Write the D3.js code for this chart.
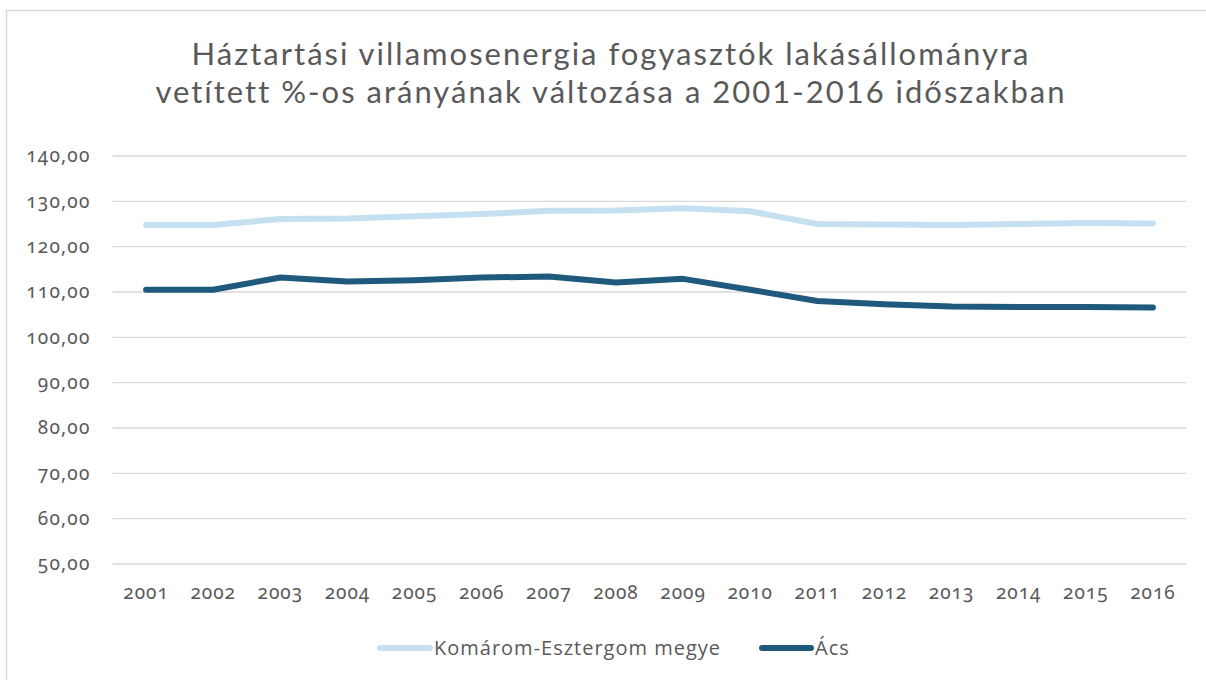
<!DOCTYPE html>
<html>
<head>
<meta charset="utf-8">
<script src="https://cdn.jsdelivr.net/npm/d3@7"></script>
<style>
  html, body { margin: 0; padding: 0; background: #fff; }
  svg text { font-family: "Open Sans", "Noto Sans", sans-serif; fill: #595959; }
  svg .num text { font-family: "Noto Sans", sans-serif; font-variant-numeric: oldstyle-nums; font-feature-settings: "onum" 1; }
  svg .title text { font-family: Lato, "Open Sans", sans-serif; }
</style>
</head>
<body>
<svg id="chart" width="1206" height="680"></svg>
<script>
// Years on the category axis
const years = ["2001","2002","2003","2004","2005","2006","2007","2008",
               "2009","2010","2011","2012","2013","2014","2015","2016"];

// Share of household electricity consumers relative to dwelling stock (%)
const komaromEsztergom = [124.8, 124.8, 126.1, 126.2, 126.7, 127.2, 127.9, 128.0,
                          128.5, 127.8, 125.0, 124.9, 124.8, 125.0, 125.2, 125.1];
const acs = [110.5, 110.5, 113.2, 112.3, 112.6, 113.2, 113.4, 112.1,
             112.9, 110.5, 108.0, 107.3, 106.8, 106.7, 106.7, 106.6];

const yTicks = [50, 60, 70, 80, 90, 100, 110, 120, 130, 140];

const seriesNames = ["Komárom-Esztergom megye", "Ács"];
const seriesColors = ["#c5e0f0", "#1f5a7e"];
const titleLines = ["Háztartási villamosenergia fogyasztók lakásállományra",
                    "vetített %-os arányának változása a 2001-2016 időszakban"];

const svg = d3.select("#chart");

// chart frame
svg.append("path")
  .attr("d", "M6.5,690 V10.5 H1206")
  .attr("fill", "none")
  .attr("stroke", "#d9d9d9")
  .attr("stroke-width", 1.5);

const margin = { left: 112.5, right: 1186.5, top: 156, bottom: 564 };

const x = d3.scaleBand().domain(years).range([margin.left, margin.right]);
const y = d3.scaleLinear().domain([50, 140]).range([margin.bottom, margin.top]);

// gridlines
svg.append("g")
  .selectAll("line")
  .data(yTicks)
  .join("line")
  .attr("x1", margin.left)
  .attr("x2", margin.right)
  .attr("y1", d => y(d))
  .attr("y2", d => y(d))
  .attr("stroke", "#d9d9d9")
  .attr("stroke-width", 1.3);

// y axis labels
const fmt = d => d3.format(".2f")(d).replace(".", ",");
const yAxis = d3.axisLeft(y).tickValues(yTicks).tickFormat(fmt).tickSize(0).tickPadding(22);
const yG = svg.append("g").attr("class", "num").attr("transform", `translate(${margin.left},0)`).call(yAxis);
yG.select(".domain").remove();
yG.selectAll("text").attr("font-size", 19).attr("letter-spacing", 1.2).attr("dy", "0.3em").style("font-family", null);

// x axis labels
const xAxis = d3.axisBottom(x).tickSize(0).tickPadding(22);
const xG = svg.append("g").attr("class", "num").attr("transform", `translate(0,${margin.bottom})`).call(xAxis);
xG.select(".domain").remove();
xG.selectAll("text").attr("font-size", 19).attr("letter-spacing", 1).style("font-family", null);

// lines
const line = d3.line()
  .x((d, i) => x(years[i]) + x.bandwidth() / 2)
  .y(d => y(d));

[komaromEsztergom, acs].forEach((vals, k) => {
  svg.append("path")
    .datum(vals)
    .attr("d", line)
    .attr("fill", "none")
    .attr("stroke", seriesColors[k])
    .attr("stroke-width", 6)
    .attr("stroke-linecap", "round")
    .attr("stroke-linejoin", "round");
});

// title
svg.append("g").attr("class", "title")
  .selectAll("text")
  .data(titleLines)
  .join("text")
  .attr("x", 611)
  .attr("y", (d, i) => 64.5 + i * 38)
  .attr("text-anchor", "middle")
  .attr("font-size", 31)
  .attr("letter-spacing", 2)
  .text(d => d);

// legend
const legendItems = [
  { x0: 380, x1: 430, tx: 434 },
  { x0: 762, x1: 811, tx: 815 }
];
const lg = svg.append("g");
legendItems.forEach((it, k) => {
  lg.append("line")
    .attr("x1", it.x0).attr("x2", it.x1)
    .attr("y1", 648).attr("y2", 648)
    .attr("stroke", seriesColors[k])
    .attr("stroke-width", 6)
    .attr("stroke-linecap", "round");
  lg.append("text")
    .attr("x", it.tx)
    .attr("y", 655)
    .attr("font-size", 20)
    .attr("letter-spacing", 1)
    .text(seriesNames[k]);
});
</script>
</body>
</html>
